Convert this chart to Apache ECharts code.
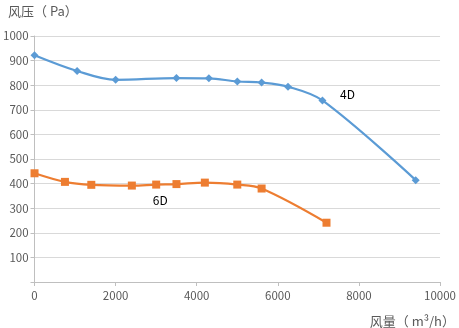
<!DOCTYPE html>
<html>
<head>
<meta charset="utf-8">
<script src="https://cdn.jsdelivr.net/npm/echarts@6/dist/echarts.min.js"></script>
<style>
  html, body { margin: 0; padding: 0; background: #fff; }
  #chart { width: 459px; height: 328px; }
</style>
</head>
<body>
<div id="chart"></div>
<script>
// Fan performance curves: pressure (Pa) against airflow (m³/h)
const flow4D = [0, 1050, 2000, 3500, 4300, 5000, 5600, 6250, 7100, 9400];
const pressure4D = [922, 858, 822, 829, 828, 815, 811, 794, 738, 414];
const flow6D = [0, 750, 1400, 2400, 3000, 3500, 4200, 5000, 5600, 7200];
const pressure6D = [442, 407, 395, 392, 396, 398, 404, 396, 380, 241];
const xTicks = [0, 2000, 4000, 6000, 8000, 10000];
const yTicks = [0, 100, 200, 300, 400, 500, 600, 700, 800, 900, 1000];

const font = 'Noto Sans CJK SC';
const axisGray = '#BFBFBF';
const labelGray = '#595959';

function pairs(xs, ys, labelIdx, labelText, offset) {
  return xs.map((x, i) => {
    const item = { value: [x, ys[i]] };
    if (i === labelIdx) {
      item.label = {
        show: true, formatter: labelText, position: 'inside',
        offset: offset, color: '#000', fontSize: 12, fontFamily: font
      };
    }
    return item;
  });
}

const chart = echarts.init(document.getElementById('chart'), null, { renderer: 'canvas' });
chart.setOption({
  animation: false,
  grid: { left: 34, right: 18, top: 36, bottom: 46, containLabel: false },
  title: {
    text: '风压（ Pa）', left: 3, top: 0,
    textStyle: { fontSize: 13, fontWeight: 'normal', color: labelGray, fontFamily: font }
  },
  graphic: [{
    type: 'text', right: 4, bottom: 0,
    style: { text: '风量（ m³/h）', fill: labelGray, font: '13px "Noto Sans CJK SC"' }
  }],
  xAxis: {
    type: 'value', min: xTicks[0], max: xTicks[xTicks.length - 1], interval: 2000,
    axisLine: { show: true, lineStyle: { color: axisGray } },
    axisTick: { show: true, inside: false, length: 4, lineStyle: { color: axisGray } },
    axisLabel: {
      color: labelGray, fontSize: 11.5, fontFamily: font, margin: 8,
      formatter: v => String(v)
    },
    splitLine: { show: false }
  },
  yAxis: {
    type: 'value', min: yTicks[0], max: yTicks[yTicks.length - 1], interval: 100,
    axisLine: { show: true, lineStyle: { color: axisGray } },
    axisTick: { show: true, inside: false, length: 4, lineStyle: { color: axisGray } },
    axisLabel: {
      color: labelGray, fontSize: 11.5, fontFamily: font, margin: 6,
      formatter: v => (v === 0 ? '' : String(v))
    },
    splitLine: { show: true, lineStyle: { color: '#D9D9D9' } }
  },
  series: [
    {
      name: '4D', type: 'line', smooth: 0.35,
      data: pairs(flow4D, pressure4D, 8, '4D', [25, -6]),
      symbol: 'diamond', symbolSize: 8,
      lineStyle: { color: '#5B9BD5', width: 2.2 },
      itemStyle: { color: '#5B9BD5' }
    },
    {
      name: '6D', type: 'line', smooth: 0.35,
      data: pairs(flow6D, pressure6D, 4, '6D', [4, 16]),
      symbol: 'rect', symbolSize: 8,
      lineStyle: { color: '#ED7D31', width: 2.2 },
      itemStyle: { color: '#ED7D31' }
    }
  ]
});
</script>
</body>
</html>
